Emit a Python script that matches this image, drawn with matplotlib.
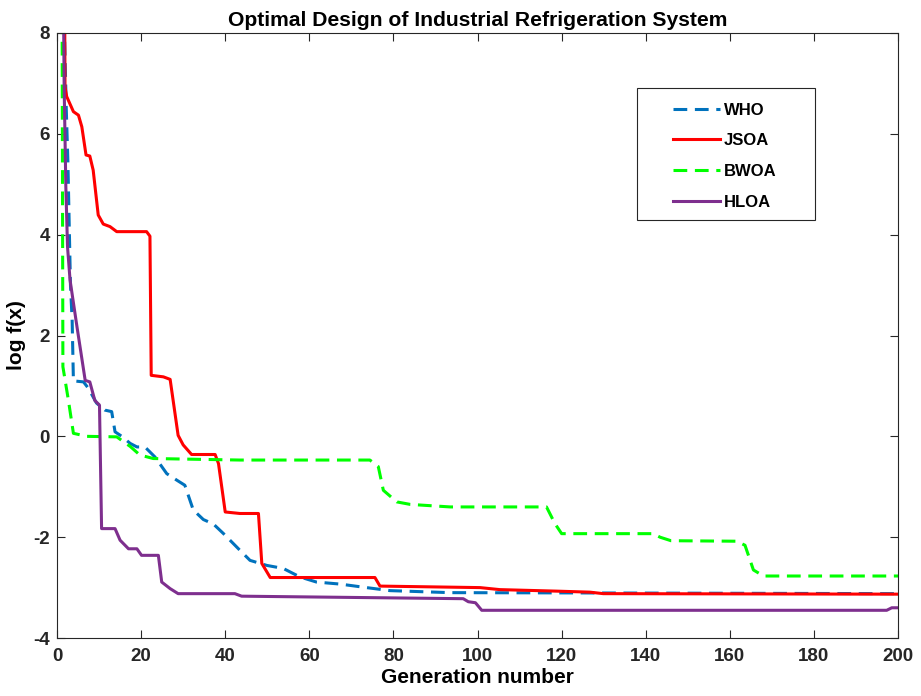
import matplotlib
matplotlib.use("Agg")
import matplotlib.pyplot as plt
from matplotlib.patches import Rectangle

plt.rcParams['font.family'] = ['Liberation Sans', 'DejaVu Sans']
plt.rcParams['font.weight'] = 'bold'
plt.rcParams['axes.unicode_minus'] = False

# Convergence curves (generation, log f(x)) for each optimizer
who_gen = [1.5, 2.2, 2.6, 3.2, 3.6, 3.9, 6.3, 7.4, 9.4, 11.4, 13.0, 13.8, 15.4, 17.4,
           19.0, 20.9, 23.3, 26.1, 28.5, 30.4, 32.4, 34.8, 37.2, 39.6, 43.5, 45.9,
           49.9, 53.8, 57.8, 61.7, 67.3, 73.6, 79.2, 93.5, 200]
who_val = [9.0, 6.5, 5.4, 3.0, 2.3, 1.1, 1.08, 0.96, 0.66, 0.52, 0.49, 0.09, 0.0, -0.14,
           -0.21, -0.21, -0.41, -0.74, -0.87, -0.97, -1.46, -1.65, -1.74, -1.93, -2.26, -2.46,
           -2.56, -2.62, -2.79, -2.89, -2.93, -3.00, -3.06, -3.10, -3.12]

jsoa_gen = [1.8, 1.9, 2.3, 3.9, 5.1, 5.9, 6.9, 7.8, 8.6, 9.8, 11.0, 12.6, 14.2, 21.3,
            22.1, 22.4, 25.3, 26.9, 28.8, 30.0, 32.0, 37.6, 38.4, 40.0, 43.5, 47.9,
            48.7, 50.7, 75.6, 76.8, 100.6, 105.3, 118.8, 126.7, 129.9, 200]
jsoa_val = [9.0, 6.93, 6.74, 6.44, 6.37, 6.14, 5.58, 5.56, 5.28, 4.39, 4.21, 4.16, 4.06, 4.06,
            3.97, 1.21, 1.18, 1.13, 0.02, -0.17, -0.36, -0.36, -0.54, -1.50, -1.53, -1.53,
            -2.52, -2.80, -2.80, -2.97, -3.00, -3.04, -3.07, -3.09, -3.12, -3.13]

bwoa_gen = [1.2, 1.4, 2.7, 3.9, 7.1, 14.2, 17.4, 19.7, 22.9, 43.5, 74.4, 76.4, 77.6,
            80.8, 84.0, 93.5, 116.4, 118.4, 120.0, 141.8, 143.4, 146.0, 161.6, 163.6,
            165.6, 168.0, 200]
bwoa_val = [9.0, 1.38, 0.72, 0.06, 0.0, -0.01, -0.20, -0.37, -0.44, -0.47, -0.47, -0.60, -1.07,
            -1.30, -1.35, -1.40, -1.40, -1.73, -1.93, -1.93, -2.00, -2.07, -2.08, -2.16,
            -2.65, -2.77, -2.77]

hloa_gen = [1.5, 1.7, 2.1, 2.5, 3.1, 4.7, 6.7, 7.8, 9.0, 10.1, 10.6, 13.8, 15.0, 17.0,
            19.0, 20.1, 24.1, 24.9, 26.9, 28.8, 42.3, 43.9, 96.6, 97.8, 99.5, 101.0,
            197.3, 198.5, 200]
hloa_val = [9.0, 6.93, 4.95, 3.76, 3.10, 2.20, 1.11, 1.08, 0.71, 0.62, -1.83, -1.83, -2.06, -2.23,
            -2.23, -2.36, -2.36, -2.89, -3.02, -3.12, -3.12, -3.17, -3.22, -3.28, -3.30, -3.45,
            -3.45, -3.40, -3.40]

x_ticks = [0, 20, 40, 60, 80, 100, 120, 140, 160, 180, 200]
y_ticks = [-4, -2, 0, 2, 4, 6, 8]

fig = plt.figure(figsize=(9.21, 6.96), dpi=100)
ax = fig.add_axes([0.0619, 0.0833, 0.9132, 0.8693])

ax.plot(who_gen, who_val, color='#0072BD', lw=2.2, ls=(0, (4.5, 2.5)), label='WHO')
ax.plot(jsoa_gen, jsoa_val, color='#FF0000', lw=2.2, ls='-', label='JSOA')
ax.plot(bwoa_gen, bwoa_val, color='#00FF00', lw=2.2, ls=(0, (4.5, 2.5)), label='BWOA')
ax.plot(hloa_gen, hloa_val, color='#7E2F8E', lw=2.2, ls='-', label='HLOA')

ax.set_xlim(0, 200)
ax.set_ylim(-4, 8)
ax.set_xticks(x_ticks)
ax.set_yticks(y_ticks)
ax.tick_params(direction='in', length=6, width=0.8, top=True, right=True,
               labelsize=13.5, colors='#262626', labelcolor='#262626')
ax.tick_params(axis='x', pad=7)
ax.tick_params(axis='y', pad=5)
for lbl in ax.get_xticklabels() + ax.get_yticklabels():
    lbl.set_fontweight('bold')
for sp in ax.spines.values():
    sp.set_color('#262626')
    sp.set_linewidth(0.8)

ax.set_xlabel('Generation number', fontsize=15, fontweight='bold', labelpad=2)
ax.set_ylabel('log f(x)', fontsize=15, fontweight='bold', labelpad=5)
ax.set_title('Optimal Design of Industrial Refrigeration System',
             fontsize=15.2, fontweight='bold', pad=5)

# legend box drawn as its own frame, entries placed inside it
ax.add_patch(Rectangle((0.6897, 0.6909), 0.2116, 0.2182, transform=ax.transAxes,
                       facecolor='white', edgecolor='#262626', lw=0.8, zorder=4))
leg = ax.legend(loc='upper left', bbox_to_anchor=(0.7325, 0.885), fontsize=12,
                handlelength=2.8, handletextpad=0.25, labelspacing=0.94,
                borderpad=0, borderaxespad=0, frameon=False)
leg.set_zorder(5)
for t in leg.get_texts():
    t.set_fontweight('bold')

fig.savefig('out.png', dpi=100)
